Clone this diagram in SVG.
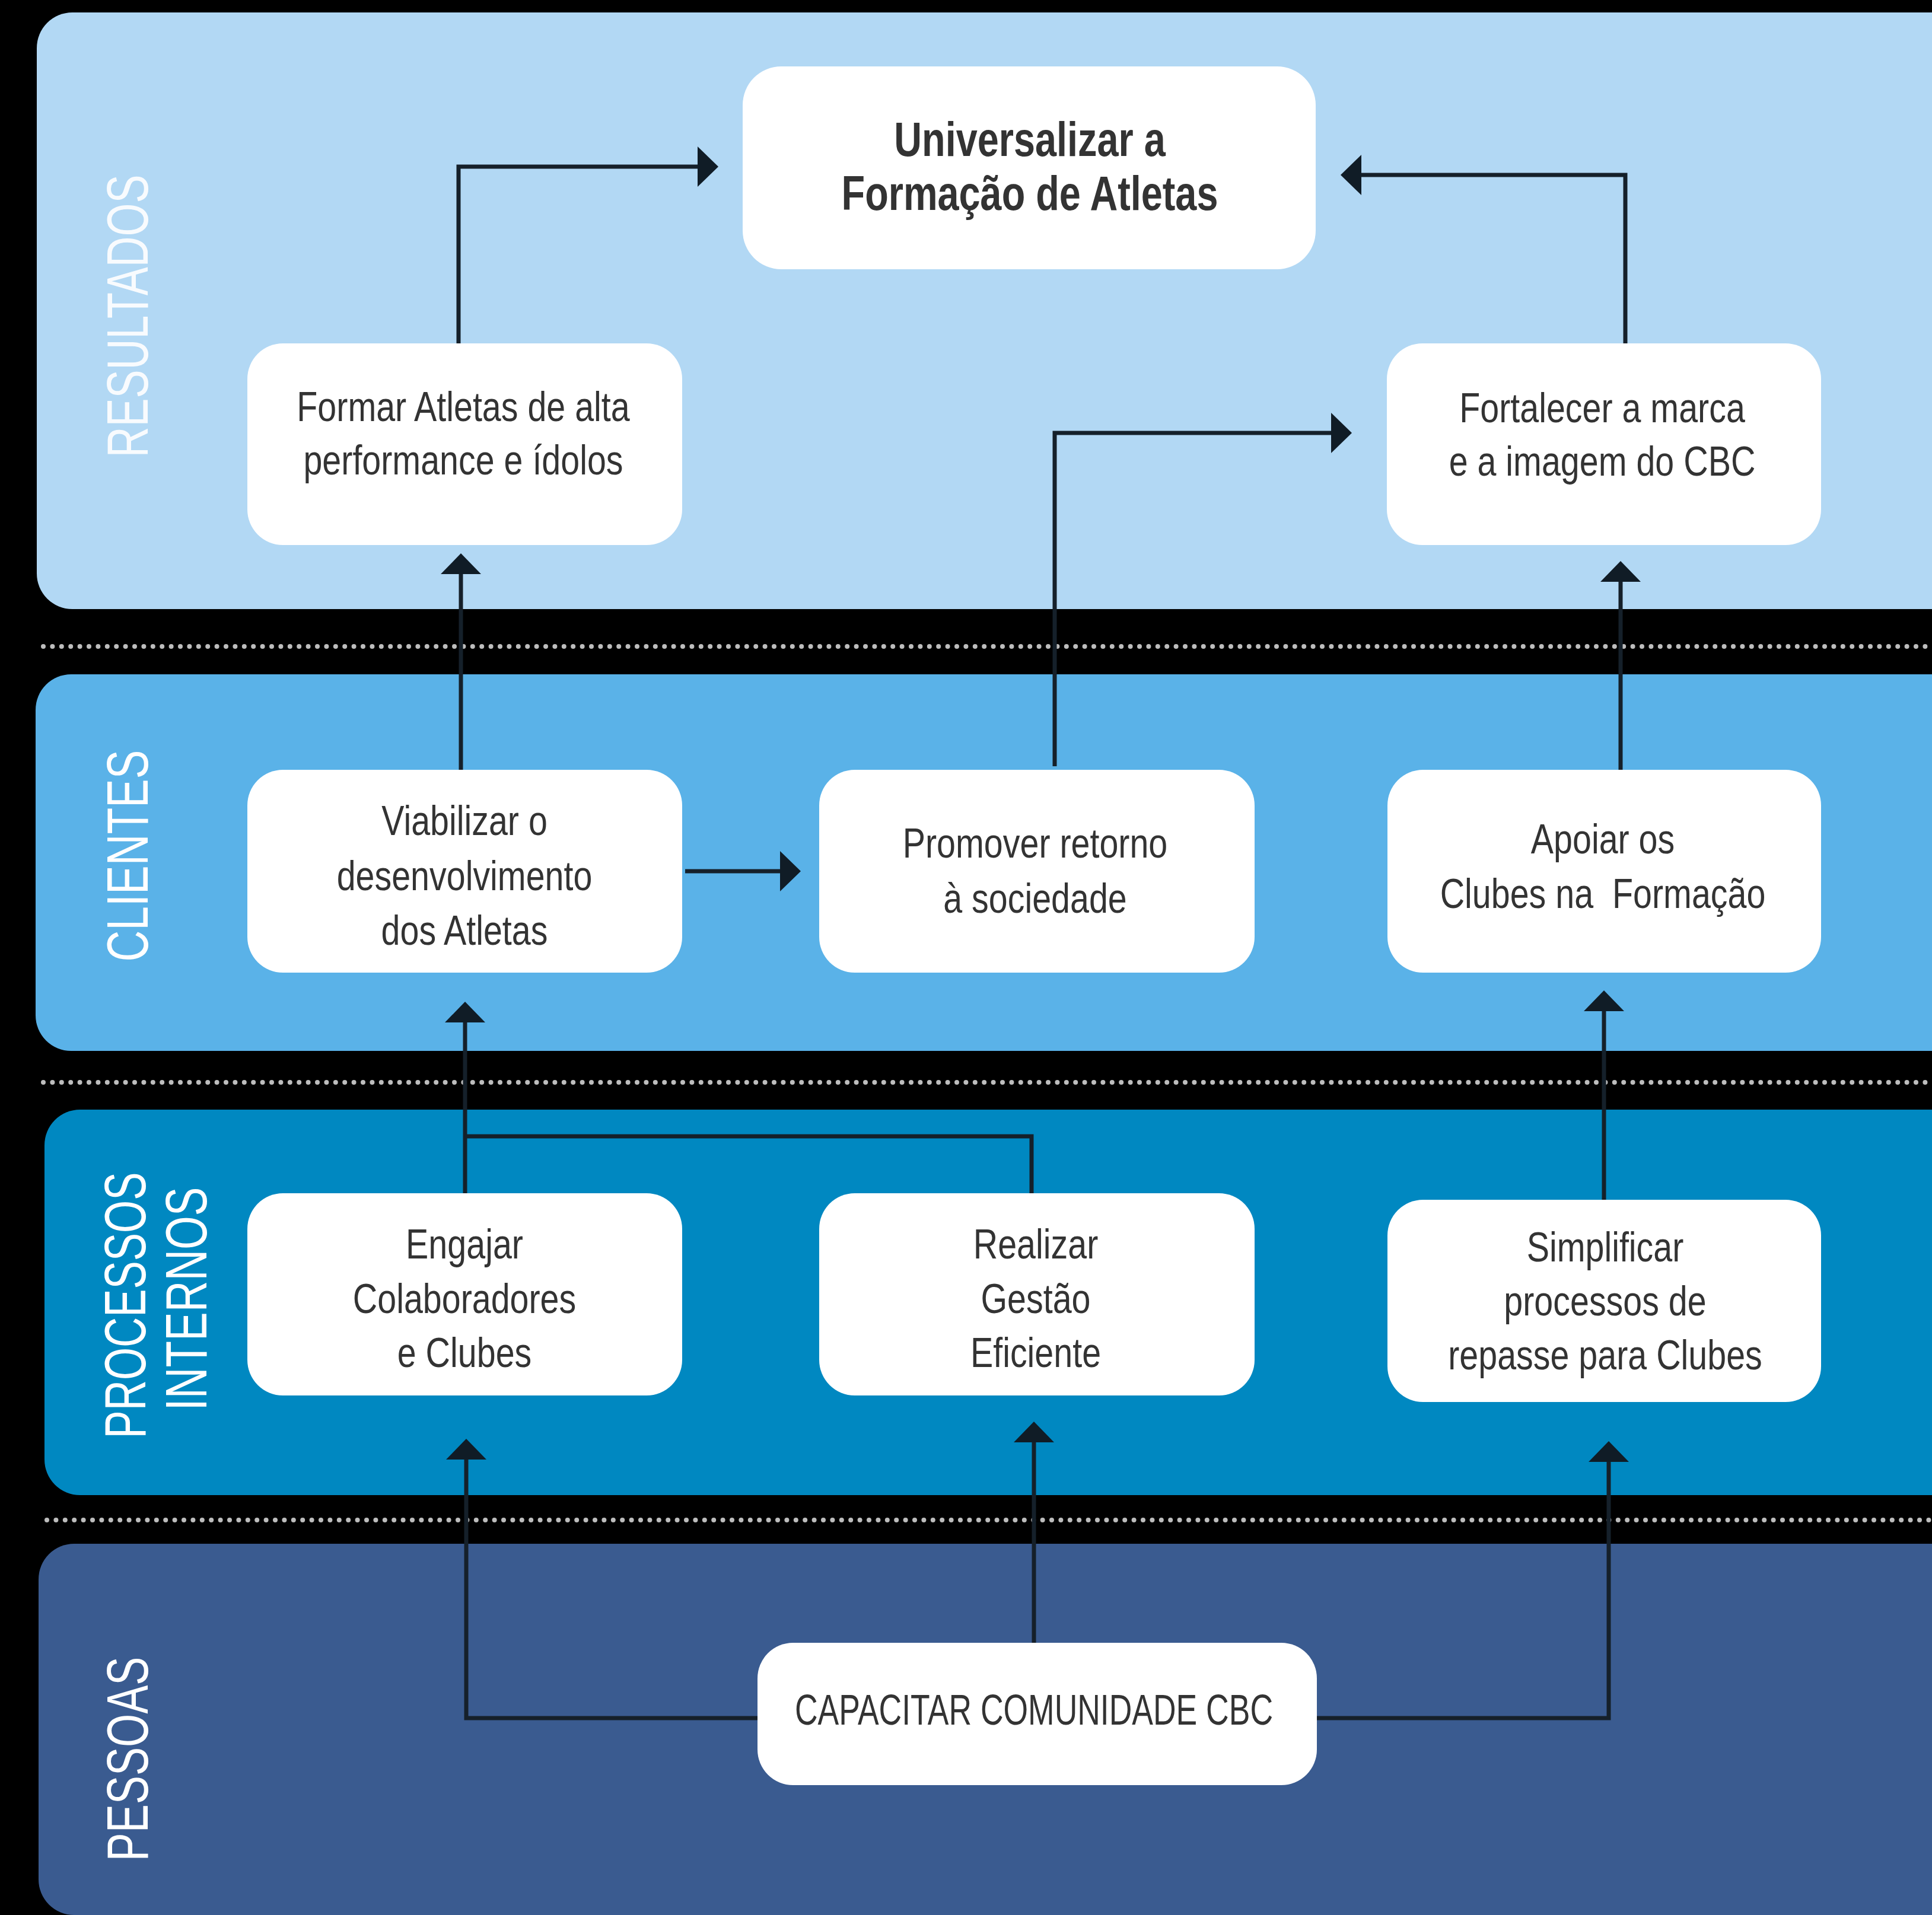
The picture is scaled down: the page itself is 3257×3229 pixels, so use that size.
<svg xmlns="http://www.w3.org/2000/svg" width="3257" height="3229" viewBox="0 0 3257 3229">
<style>
.band-label{font-family:"Liberation Sans",Arial,sans-serif;font-size:98px;fill:#ffffff;text-anchor:middle}
.node rect{fill:#ffffff}
.node text{font-family:"Liberation Sans",Arial,sans-serif;font-size:70px;fill:#333333;text-anchor:middle}
.node text.bold{font-weight:bold;font-size:81px}
.node text.caps{font-size:73px}
.conn{fill:none;stroke:#15202a;stroke-width:7;marker-end:url(#arrow)}
.conn-plain{fill:none;stroke:#15202a;stroke-width:7}
.dots{stroke:#bdbdbd;stroke-width:8;stroke-linecap:round;stroke-dasharray:0 15.4}
</style>
<defs>
<marker id="arrow" viewBox="0 0 35 68" refX="0" refY="34" markerWidth="35" markerHeight="68" markerUnits="userSpaceOnUse" orient="auto">
<path d="M0,0 L35,34 L0,68 Z" fill="#101c26"/>
</marker>
</defs>
<rect x="0" y="0" width="3257" height="3229" fill="#000000"/>
<g id="bands">
<rect id="band-resultados" x="62" y="21" width="3260" height="1006" rx="60" ry="60" fill="#b2d8f4"/>
<rect id="band-clientes" x="60" y="1137" width="3260" height="635" rx="60" ry="60" fill="#5ab2e8"/>
<rect id="band-processos" x="75" y="1871" width="3260" height="650" rx="60" ry="60" fill="#0088c1"/>
<rect id="band-pessoas" x="65" y="2603" width="3260" height="626" rx="60" ry="60" fill="#3a5b90"/>
</g>
<g id="separators">
<line class="dots" x1="73" y1="1090" x2="3257" y2="1090"/>
<line class="dots" x1="73" y1="1825" x2="3257" y2="1825"/>
<line class="dots" x1="79" y1="2563" x2="3257" y2="2563"/>
</g>
<g id="band-labels">
<text class="band-label" transform="translate(249,533) rotate(-90)" textLength="477" lengthAdjust="spacingAndGlyphs" opacity="0.92">RESULTADOS</text>
<text class="band-label" transform="translate(249,1443) rotate(-90)" textLength="357" lengthAdjust="spacingAndGlyphs">CLIENTES</text>
<text class="band-label" transform="translate(245,2201) rotate(-90)" textLength="449" lengthAdjust="spacingAndGlyphs">PROCESSOS</text>
<text class="band-label" transform="translate(348,2190) rotate(-90)" textLength="377" lengthAdjust="spacingAndGlyphs">INTERNOS</text>
<text class="band-label" transform="translate(249,2966) rotate(-90)" textLength="345" lengthAdjust="spacingAndGlyphs">PESSOAS</text>
</g>
<g id="connectors">
<path class="conn" d="M773,579 V281 H1176"/>
<path class="conn" d="M2740,579 V295 H2295"/>
<path class="conn" d="M1778,1292 V730 H2244"/>
<path class="conn" d="M777,1298 V968"/>
<path class="conn" d="M1155,1469 H1315"/>
<path class="conn" d="M2732,1298 V981"/>
<path class="conn" d="M784,2012 V1724"/>
<path class="conn-plain" d="M1739,2012 V1916 H784"/>
<path class="conn" d="M2704,2023 V1705"/>
<path class="conn" d="M1277,2897 H786 V2461"/>
<path class="conn" d="M1743,2770 V2432"/>
<path class="conn" d="M2220,2897 H2712 V2465"/>
</g>
<g id="node-universalizar" class="node">
<rect x="1252" y="112" width="966" height="342" rx="65" ry="65"/>
<g transform="matrix(0.8,0,0,1,1736,0)">
<text class="bold" x="0" y="263">Universalizar a</text>
<text class="bold" x="0" y="354">Formação de Atletas</text>
</g>
</g>
<g id="node-formar" class="node">
<rect x="417" y="579" width="733" height="340" rx="60" ry="60"/>
<g transform="matrix(0.82,0,0,1,781,0)">
<text x="0" y="710">Formar Atletas de alta</text>
<text x="0" y="800">performance e ídolos</text>
</g>
</g>
<g id="node-fortalecer" class="node">
<rect x="2338" y="579" width="732" height="340" rx="60" ry="60"/>
<g transform="matrix(0.82,0,0,1,2701,0)">
<text x="0" y="712">Fortalecer a marca</text>
<text x="0" y="802">e a imagem do CBC</text>
</g>
</g>
<g id="node-viabilizar" class="node">
<rect x="417" y="1298" width="733" height="342" rx="60" ry="60"/>
<g transform="matrix(0.82,0,0,1,783,0)">
<text x="0" y="1408">Viabilizar o</text>
<text x="0" y="1501">desenvolvimento</text>
<text x="0" y="1593">dos Atletas</text>
</g>
</g>
<g id="node-promover" class="node">
<rect x="1381" y="1298" width="734" height="342" rx="60" ry="60"/>
<g transform="matrix(0.82,0,0,1,1745,0)">
<text x="0" y="1446">Promover retorno</text>
<text x="0" y="1539">à sociedade</text>
</g>
</g>
<g id="node-apoiar" class="node">
<rect x="2339" y="1298" width="731" height="342" rx="60" ry="60"/>
<g transform="matrix(0.82,0,0,1,2702,0)">
<text x="0" y="1439">Apoiar os</text>
<text x="0" y="1531">Clubes na&#160; Formação</text>
</g>
</g>
<g id="node-engajar" class="node">
<rect x="417" y="2012" width="733" height="341" rx="60" ry="60"/>
<g transform="matrix(0.82,0,0,1,783,0)">
<text x="0" y="2122">Engajar</text>
<text x="0" y="2214">Colaboradores</text>
<text x="0" y="2305">e Clubes</text>
</g>
</g>
<g id="node-realizar" class="node">
<rect x="1381" y="2012" width="734" height="341" rx="60" ry="60"/>
<g transform="matrix(0.82,0,0,1,1746,0)">
<text x="0" y="2122">Realizar</text>
<text x="0" y="2214">Gestão</text>
<text x="0" y="2305">Eficiente</text>
</g>
</g>
<g id="node-simplificar" class="node">
<rect x="2339" y="2023" width="731" height="341" rx="60" ry="60"/>
<g transform="matrix(0.82,0,0,1,2706,0)">
<text x="0" y="2127">Simplificar</text>
<text x="0" y="2218">processos de</text>
<text x="0" y="2309">repasse para Clubes</text>
</g>
</g>
<g id="node-capacitar" class="node">
<rect x="1277" y="2770" width="943" height="240" rx="60" ry="60"/>
<text class="caps" x="1743" y="2908" textLength="806" lengthAdjust="spacingAndGlyphs">CAPACITAR COMUNIDADE CBC</text>
</g>
</svg>
